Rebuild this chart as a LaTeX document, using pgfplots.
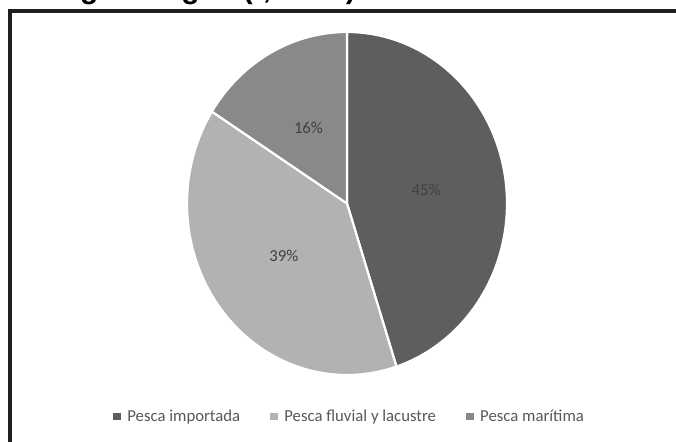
\documentclass[border=0pt]{standalone}
\usepackage{fontspec}
\setmainfont{Carlito}
\newfontfamily\arialfont{Liberation Sans}
\usepackage{pgfplots}
\usepackage{pgfplotstable}
\pgfplotsset{compat=1.18}
\definecolor{imp}{RGB}{94,94,94}
\definecolor{flu}{RGB}{178,178,178}
\definecolor{mar}{RGB}{137,137,137}
\definecolor{lbl}{RGB}{64,64,64}
\definecolor{legtxt}{RGB}{89,89,89}

% share of each origin, in %
\pgfplotstableread{
share colour
45 imp
39 flu
16 mar
}\piedata

\tikzset{pielabel/.style={font=\fontsize{16.8}{20}\selectfont, text=lbl}}

\begin{document}
\begin{tikzpicture}[x=1bp,y=1bp]
\fill[white] (0,0) rectangle (676,442);
\node[anchor=base east, inner sep=0, font=\arialfont\bfseries\fontsize{30}{36}\selectfont]
  at (356,443.5) {Consumo de pescado según origen (t, 2020)};
\draw[line width=4bp, black!88] (10,-10) -- (10,430.5) -- (690,430.5);

\begin{axis}[at={(347bp,238.5bp)}, anchor=origin, scale only axis,
  width=320bp, height=343bp, xmin=-1, xmax=1, ymin=-1, ymax=1,
  hide axis, clip=false,
  legend columns=3, legend cell align=left,
  legend style={at={(0.508,-0.12)}, anchor=center, draw=none, fill=none,
    font=\fontsize{16.8}{20}\selectfont, text=legtxt,
    /tikz/every even column/.append style={column sep=28bp}}]

\pgfplotstablegetrowsof{\piedata}
\pgfmathtruncatemacro\last{\pgfplotsretval-1}
\def\start{90}
\pgfplotsforeachungrouped \i in {0,...,\last}{
  \pgfplotstablegetelem{\i}{share}\of\piedata \let\v\pgfplotsretval
  \pgfplotstablegetelem{\i}{colour}\of\piedata \let\c\pgfplotsretval
  \pgfmathsetmacro\stop{\start-3.6*\v}
  \pgfmathsetmacro\lx{0.5*cos((\start+\stop)/2)}
  \pgfmathsetmacro\ly{0.5*sin((\start+\stop)/2)}
  \edef\cmd{%
    \noexpand\fill[\c, draw=white, line width=2.2bp, line join=round]
      (0,0) -- plot[domain=\stop:\start, samples=72, variable=\noexpand\t]
      ({cos(\noexpand\t)},{sin(\noexpand\t)}) -- cycle;
    \noexpand\node[pielabel] at (\lx,\ly) {\v\noexpand\%};}
  \cmd
  \let\start\stop
}

\addlegendimage{legend image code/.code={\fill[imp] (0bp,-3.3bp) rectangle (6.6bp,3.3bp); \path[draw=none] (6.6bp,0) -- (12bp,0);}}
\addlegendentry{Pesca importada}
\addlegendimage{legend image code/.code={\fill[flu] (0bp,-3.3bp) rectangle (6.6bp,3.3bp); \path[draw=none] (6.6bp,0) -- (12bp,0);}}
\addlegendentry{Pesca fluvial y lacustre}
\addlegendimage{legend image code/.code={\fill[mar] (0bp,-3.3bp) rectangle (6.6bp,3.3bp); \path[draw=none] (6.6bp,0) -- (12bp,0);}}
\addlegendentry{Pesca marítima}
\end{axis}

\pgfresetboundingbox
\useasboundingbox (0,0) rectangle (676,442);
\end{tikzpicture}
\end{document}
